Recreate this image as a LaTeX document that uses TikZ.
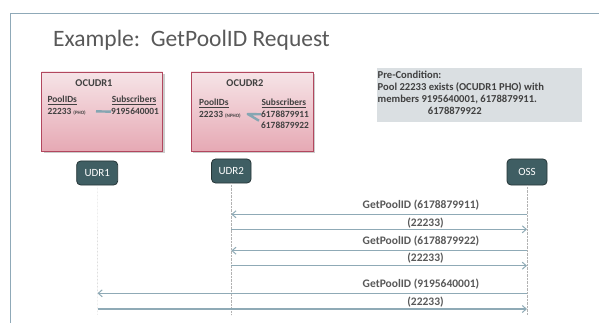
\documentclass[tikz,border=0pt]{standalone}
\usepackage{fontspec}
\setmainfont{Carlito}
\usetikzlibrary{arrows.meta}
\definecolor{framecol}{HTML}{8FA9B8}
\definecolor{titlegray}{HTML}{595959}
\definecolor{txtdark}{HTML}{404040}
\definecolor{pinktop}{HTML}{F6E4E7}
\definecolor{pinkbot}{HTML}{E6A9B4}
\definecolor{pinkborder}{HTML}{B2475E}
\definecolor{udrfill}{HTML}{3F5E63}
\definecolor{udrborder}{HTML}{263638}
\definecolor{precfill}{HTML}{DADFE2}
\definecolor{arrowcol}{HTML}{8FAAB6}
\definecolor{linkcol}{HTML}{85A6B2}
\tikzset{
  fs/.style={font=\fontsize{#1}{#1}\selectfont},
  pinkbox/.style={draw=pinkborder, line width=0.8pt, top color=pinktop, bottom color=pinkbot},
  udrbox/.style={draw=udrborder, line width=0.8pt, fill=udrfill, rounded corners=4pt, text=white,
    font=\fontsize{11}{11}\selectfont, inner sep=0pt},
  boxtxt/.style={text=txtdark, font=\fontsize{9.4}{9.4}\selectfont\bfseries, inner sep=0pt, anchor=west},
  prectxt/.style={text=txtdark, font=\fontsize{10.6}{10.6}\selectfont\bfseries, inner sep=0pt, anchor=west},
  msg/.style={text=titlegray, font=\fontsize{11.5}{11.5}\selectfont\bfseries, inner sep=0pt},
  lifeline/.style={draw=gray!60, line width=0.4pt, densely dotted},
  msgarrow/.style={draw=arrowcol, line width=1.3pt, -{Straight Barb[length=4pt,width=7pt,line width=1pt]}},
  link/.style={draw=linkcol, line width=2.4pt}
}
\begin{document}
\begin{tikzpicture}[x=1pt,y=-1pt]
\useasboundingbox (0,0) rectangle (599,323);
\fill[white] (0,0) rectangle (599,323);
% frame
\draw[framecol, line width=0.8pt] (599,13) -- (10.5,13) -- (10.5,323);
% title
\node[anchor=west, inner sep=0pt, text=titlegray, font=\fontsize{23.5}{23.5}\selectfont] (title) at (53,40) {Example:\ \ GetPoolID Request};

% OCUDR1
\fill[gray!40] (43.7,74) rectangle (164.7,153);
\path[pinkbox] (41.7,72) rectangle (162.7,151);
\node[boxtxt, anchor=center, font=\fontsize{10.4}{10.4}\selectfont\bfseries] (oc1) at (94,83.5) {OCUDR1};
\node[boxtxt] (p1) at (47.3,100) {\underline{PoolIDs}};
\node[boxtxt] (id1) at (47.3,111.7) {22233 {\fontsize{5}{5}\selectfont (PHO)}};
\node[boxtxt] (s1) at (111.7,100) {\underline{Subscribers}};
\node[boxtxt] (n1) at (111,111.7) {9195640001};
\draw[link] (96,111.3) -- (n1.west);

% OCUDR2
\fill[gray!40] (193,74) rectangle (315,153);
\path[pinkbox] (191,72) rectangle (313,151);
\node[boxtxt, anchor=center, font=\fontsize{10.4}{10.4}\selectfont\bfseries] (oc2) at (245,83.5) {OCUDR2};
\node[boxtxt] (p2) at (199,103.3) {\underline{PoolIDs}};
\node[boxtxt] (id2) at (199,114.3) {22233 {\fontsize{5}{5}\selectfont (NPHO)}};
\node[boxtxt] (s2) at (261.3,103.3) {\underline{Subscribers}};
\node[boxtxt] (n2) at (261,114.3) {6178879911};
\node[boxtxt] (n3) at (261,125.7) {6178879922};
\draw[link, line join=round] (n2.west) -- (247.7,114) -- (259,120.7);

% Pre-condition
\path[fill=precfill] (376.7,68) rectangle (581.7,122);
\node[prectxt] (pc1) at (377.5,75) {Pre-Condition:};
\node[prectxt] (pc2) at (377.5,87) {Pool 22233 exists (OCUDR1 PHO) with};
\node[prectxt] (pc3) at (377.5,99) {members 9195640001, 6178879911.};
\node[prectxt] (pc4) at (427.7,110.7) {6178879922};

% participants
\node[udrbox, minimum width=41pt, minimum height=24pt] (udr1) at (97.2,173) {UDR1};
\node[udrbox, minimum width=39.5pt, minimum height=24pt] (udr2) at (231.3,171) {UDR2};
\node[udrbox, minimum width=40pt, minimum height=26pt] (oss) at (527,172) {OSS};

\coordinate (e1) at (97.5,315);
\coordinate (e2) at (231.3,315);
\coordinate (e3) at (527,315);
\draw[lifeline] (udr1.south) -- (e1);
\draw[lifeline] (udr2.south) -- (e2);
\draw[lifeline] (oss.south) -- (e3);

% message coordinates
\coordinate (a1o) at (527,214.3); \coordinate (a1u) at (231.3,214.3);
\coordinate (a2o) at (527,229.3); \coordinate (a2u) at (231.3,229.3);
\coordinate (a3o) at (527,250.7); \coordinate (a3u) at (231.3,250.7);
\coordinate (a4o) at (527,265.7); \coordinate (a4u) at (231.3,265.7);
\coordinate (a5o) at (527,293.3); \coordinate (a5u) at (97.5,293.3);
\coordinate (a6o) at (527,309);   \coordinate (a6u) at (97.5,309);

\draw[msgarrow] (a1o) -- (a1u);
\draw[msgarrow] (a2u) -- (a2o);
\draw[msgarrow] (a3o) -- (a3u);
\draw[msgarrow] (a4u) -- (a4o);
\draw[msgarrow] (a5o) -- (a5u);
\draw[msgarrow] (a6u) -- (a6o);

\node[msg] (m1) at (421,205) {GetPoolID (6178879911)};
\node[msg] (m2) at (425.5,223.5) {(22233)};
\node[msg] (m3) at (421,241) {GetPoolID (6178879922)};
\node[msg] (m4) at (425.5,258.5) {(22233)};
\node[msg] (m5) at (421,284) {GetPoolID (9195640001)};
\node[msg] (m6) at (425.5,302.5) {(22233)};
\end{tikzpicture}
\end{document}
